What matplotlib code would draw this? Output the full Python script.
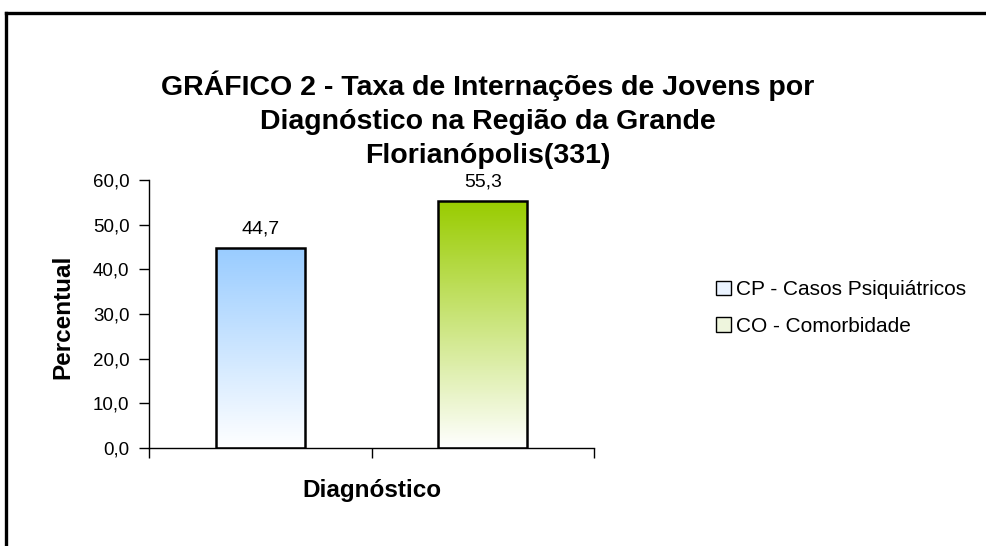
import matplotlib.pyplot as plt
import numpy as np
from matplotlib.colors import LinearSegmentedColormap
from matplotlib.lines import Line2D
from matplotlib.patches import Patch

plt.rcParams['font.family'] = ['Liberation Sans', 'DejaVu Sans']

labels = ['CP - Casos Psiquiátricos', 'CO - Comorbidade']
values = [44.7, 55.3]
colors = ['#99CCFF', '#99CC00']
yticks = [0, 10, 20, 30, 40, 50, 60]

fig = plt.figure(figsize=(9.87, 5.46), dpi=100)
ax = fig.add_axes([0.151, 0.1795, 0.451, 0.4905])

x = np.arange(len(values))
bars = ax.bar(x, values, width=0.40, facecolor='none', edgecolor='black',
              linewidth=1.8, zorder=3)

# vertical gradient fill, colour at the top fading to white
grad = np.linspace(0, 1, 256).reshape(-1, 1)
for bar, c in zip(bars, colors):
    cmap = LinearSegmentedColormap.from_list('g', ['#FFFFFF', c])
    x0, y0 = bar.get_x(), bar.get_y()
    im = ax.imshow(grad, cmap=cmap, origin='lower', aspect='auto',
                   extent=[x0, x0 + bar.get_width(), y0, y0 + bar.get_height()],
                   zorder=2)
    im.set_clip_path(bar)

ax.set_xlim(-0.5, 1.5)
ax.set_ylim(0, 60)

for xi, v in zip(x, values):
    ax.text(xi, v + 4.4, f'{v:.1f}'.replace('.', ','), ha='center', va='center',
            fontsize=14)

ax.set_yticks(yticks)
ax.set_yticklabels([f'{t:.1f}'.replace('.', ',') for t in yticks], fontsize=13.5)
ax.set_xticks([-0.5, 0.5, 1.5])
ax.set_xticklabels([])
ax.tick_params(direction='out', length=7, width=1, color='black')
ax.tick_params(axis='y', pad=7)
for s in ['top', 'right']:
    ax.spines[s].set_visible(False)
for s in ['left', 'bottom']:
    ax.spines[s].set_linewidth(1)

ax.set_ylabel('Percentual', fontsize=17.5, fontweight='bold')
ax.yaxis.set_label_coords(-0.167, 0.49)
ax.set_xlabel('Diagnóstico', fontsize=17.5, fontweight='bold')
ax.xaxis.set_label_coords(0.5, -0.116)

fig.text(0.494, 0.78, 'GRÁFICO 2 - Taxa de Internações de Jovens por\n'
         'Diagnóstico na Região da Grande\nFlorianópolis(331)',
         ha='center', va='center', fontsize=20.5, fontweight='bold',
         linespacing=1.40)

handles = [Patch(facecolor=c, edgecolor='black') for c in ['#EAF3FF', '#EEF5DD']]
fig.legend(handles, labels, loc='center left', bbox_to_anchor=(0.715, 0.436),
           frameon=False, fontsize=15, handlelength=0.7, handleheight=0.7,
           handletextpad=0.25, labelspacing=0.85, borderpad=0)

# outer chart frame (only top and left edges visible)
fig.add_artist(Line2D([0.0065, 1.0], [0.976, 0.976], transform=fig.transFigure,
                      color='black', linewidth=2.4))
fig.add_artist(Line2D([0.0065, 0.0065], [0.0, 0.976], transform=fig.transFigure,
                      color='black', linewidth=2.4))

fig.savefig('out.png', dpi=100)
